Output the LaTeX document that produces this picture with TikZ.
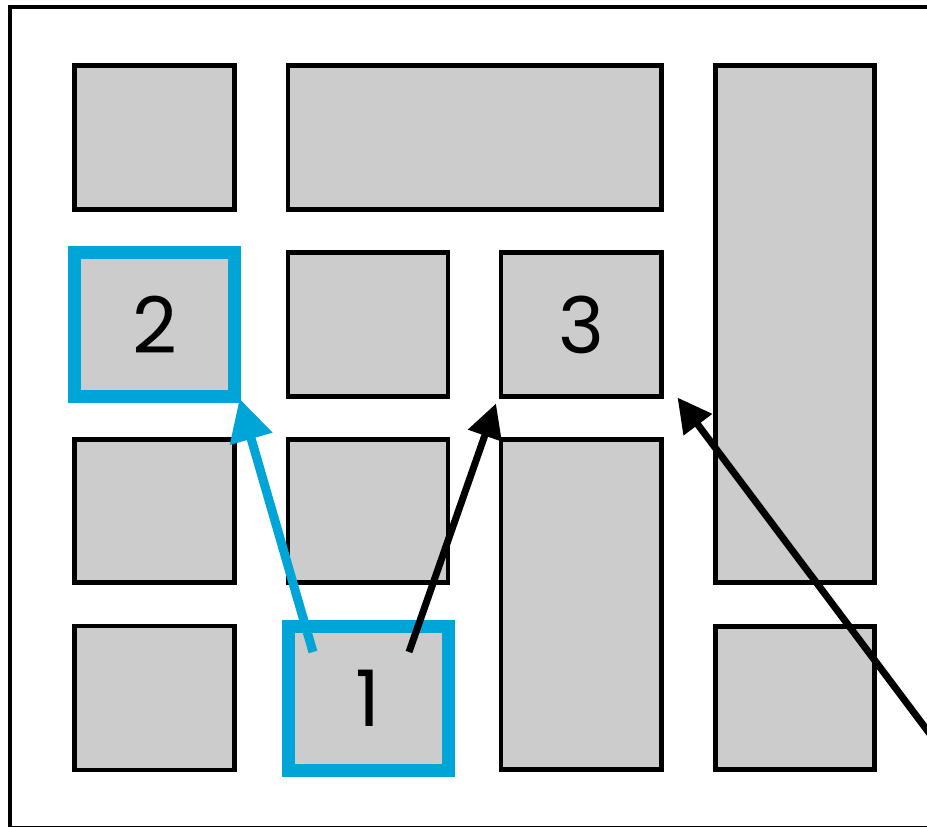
\documentclass[tikz,border=0pt]{standalone}
\usepackage{fontspec}
\setmainfont{Poppins}
\usetikzlibrary{arrows.meta,calc}
\definecolor{boxgray}{RGB}{204,204,204}
\definecolor{hlblue}{RGB}{0,165,215}
\begin{document}
\begin{tikzpicture}[x=1pt,y=-1pt,
  cell/.style={draw=black,fill=boxgray,line width=4.8pt,inner sep=0pt,outer sep=0pt,rectangle},
  hl/.style={draw=hlblue,line width=13pt},
  lbl/.style={font=\fontsize{78}{78}\selectfont},
  blk/.style={draw=black,line width=7pt,-{Triangle[length=34pt,width=34pt]}},
  blu/.style={draw=hlblue,line width=9pt,-{Triangle[length=42pt,width=42pt]}}]
\useasboundingbox (0,0) rectangle (927,827);
\clip (0,0) rectangle (927,827);
\draw[line width=4.5pt] (10,7) rectangle (1000,828);
% row 1
\node[cell,minimum width=160pt,minimum height=144pt] (a11) at (154.5,137.5) {};
\node[cell,minimum width=373.5pt,minimum height=144pt] (a12) at (474.75,137.5) {};
\node[cell,minimum width=159pt,minimum height=517pt] (a14) at (795,324) {};
% row 2
\node[cell,hl,minimum width=160pt,minimum height=144pt,lbl] (b2) at (154.5,324.5) {2};
\node[cell,minimum width=160pt,minimum height=144pt] (a22) at (368,324.5) {};
\node[cell,minimum width=160.5pt,minimum height=144pt,lbl] (b3) at (581.25,324.5) {3};
% row 3
\node[cell,minimum width=160pt,minimum height=143pt] (a31) at (154.5,511) {};
\node[cell,minimum width=160pt,minimum height=143pt] (a32) at (368,511) {};
\node[cell,minimum width=160.5pt,minimum height=330pt] (a33) at (581.25,604.5) {};
% row 4
\node[cell,minimum width=160pt,minimum height=144pt] (a41) at (154.5,698) {};
\node[cell,hl,minimum width=160pt,minimum height=144pt,lbl] (b1) at (368,698) {1};
\node[cell,minimum width=159pt,minimum height=143pt] (a44) at (795,698) {};
% connectors
\coordinate (s1) at (313,652);
\coordinate (s2) at (409,652);
\coordinate (s3) at (960,774);
\draw[blu] (s1) -- ($(b2.south east)+(5,2)$);
\draw[blk] (s2) -- ($(b3.south west)+(-5,7)$);
\draw[blk] (s3) -- ($(b3.south east)+(16,1)$);
\end{tikzpicture}
\end{document}
